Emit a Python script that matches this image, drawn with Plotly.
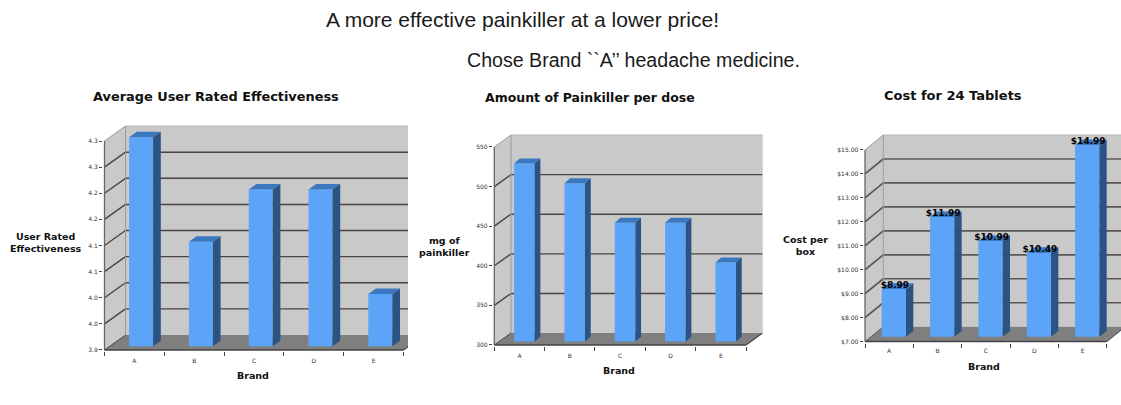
import plotly.graph_objects as go

WIDTH, HEIGHT = 1121, 405

brands = ["A", "B", "C", "D", "E"]

effectiveness = [4.3, 4.1, 4.2, 4.2, 4.0]
effectiveness_ticks = [3.9, 3.95, 4.0, 4.05, 4.1, 4.15, 4.2, 4.25, 4.3]
effectiveness_tick_labels = ["3.9", "4.0", "4.0", "4.1", "4.1", "4.2", "4.2", "4.3", "4.3"]

painkiller_mg = [525, 500, 450, 450, 400]
painkiller_ticks = [300, 350, 400, 450, 500, 550]
painkiller_tick_labels = ["300", "350", "400", "450", "500", "550"]

cost = [8.99, 11.99, 10.99, 10.49, 14.99]
cost_ticks = [7, 8, 9, 10, 11, 12, 13, 14, 15]
cost_tick_labels = ["$7.00", "$8.00", "$9.00", "$10.00", "$11.00", "$12.00", "$13.00", "$14.00", "$15.00"]

WALL = "#c9c9c9"
FLOOR = "#7f7f7f"
BAR_FRONT = "#5ba4f7"
BAR_TOP = "#3b78bf"
BAR_SIDE = "#2b5483"
EDGE = "#9a9a9a"
AXIS = "#444444"
BOLD = "DejaVu Sans"

# Pixel geometry of each faux-3D panel: the front axis box, the depth of the
# walls, and the depth, inset and width of the bars.
panels = [
    dict(values=effectiveness, ticks=effectiveness_ticks, tick_labels=effectiveness_tick_labels,
         left=104.5, right=403.5, clip_right=408, bottom=351.7, top=141.7,
         depth=(21, 15), inset=(6.7, 3.7), bar_depth=(7.7, 5.5), bar_px=24,
         title="Average User Rated Effectiveness", title_xy=(215.5, 96.5), title_size=12.9,
         y_title="User Rated<br>Effectiveness", y_title_xy=(46, 244),
         x_title_xy=(253, 377.5), tick_gap=5, grid=("#4b4545", 1.4)),
    dict(values=painkiller_mg, ticks=painkiller_ticks, tick_labels=painkiller_tick_labels,
         left=494.3, right=746, clip_right=762.5, bottom=346.7, top=147.7,
         depth=(16.7, 12), inset=(4.9, 3.4), bar_depth=(5.7, 5), bar_px=20.6,
         title="Amount of Painkiller per dose", title_xy=(589.5, 97.7), title_size=12.5,
         y_title="mg of<br>painkiller", y_title_xy=(444, 247.5),
         x_title_xy=(619, 372.5), tick_gap=5, grid=("#4b4545", 1.4)),
    dict(values=cost, ticks=cost_ticks, tick_labels=cost_tick_labels, labelled=True,
         left=865, right=1106.7, clip_right=1121, bottom=343.3, top=150.7,
         depth=(18.3, 15), inset=(4.7, 5), bar_depth=(7.3, 5.7), bar_px=24.3,
         title="Cost for 24 Tablets", title_xy=(953.3, 96), title_size=13,
         y_title="Cost per<br>box", y_title_xy=(805.7, 247),
         x_title_xy=(984.3, 368.5), tick_gap=4, grid=("#5c5757", 1.7)),
]

PAD = 1.5  # room around the front axes so their strokes are not clipped

fig = go.Figure()
shapes, annotations = [], []


def note(text, xy, size, family=BOLD, bold=True, color="#111111"):
    annotations.append(dict(
        text=f"<b>{text}</b>" if bold else text,
        xref="paper", yref="paper", x=xy[0] / WIDTH, y=1 - xy[1] / HEIGHT,
        xanchor="center", yanchor="middle", showarrow=False,
        font=dict(family=family, size=size, color=color),
    ))


for n, p in enumerate(panels, start=1):
    xa, ya = ("x", "y") if n == 1 else (f"x{n}", f"y{n}")
    count = len(brands)
    ymin, ymax = p["ticks"][0], p["ticks"][-1]
    px_x = (p["right"] - p["left"]) / count
    px_y = (p["bottom"] - p["top"]) / (ymax - ymin)
    dx, dy = p["depth"][0] / px_x, p["depth"][1] / px_y

    x_lo, x_hi = -PAD / px_x, (p["clip_right"] - p["left"]) / px_x
    y_lo = ymin - PAD / px_y
    y_hi = ymax + dy + PAD / px_y

    def path(points, **style):
        d = "M" + " L".join(f"{a},{b}" for a, b in points) + " Z"
        shapes.append(dict(type="path", path=d, xref=xa, yref=ya, layer="below", **style))

    def segment(x0, y0, x1, y1, color, width):
        shapes.append(dict(type="line", x0=x0, y0=y0, x1=x1, y1=y1, xref=xa, yref=ya,
                           layer="below", line=dict(color=color, width=width)))

    flat = dict(line=dict(width=0))
    # Walls and floor of the box
    path([(dx, ymin + dy), (count + dx, ymin + dy), (count + dx, ymax + dy), (dx, ymax + dy)],
         fillcolor=WALL, **flat)
    path([(0, ymin), (dx, ymin + dy), (dx, ymax + dy), (0, ymax)], fillcolor=WALL, **flat)
    path([(0, ymin), (count, ymin), (count + dx, ymin + dy), (dx, ymin + dy)],
         fillcolor=FLOOR, **flat)

    # Gridlines fold from the back wall onto the side wall
    grid_color, grid_width = p["grid"]
    for t in p["ticks"][1:-1]:
        segment(dx, t + dy, count + dx, t + dy, grid_color, grid_width)
        segment(0, t, dx, t + dy, grid_color, grid_width)

    # Box outline
    segment(0, ymax, dx, ymax + dy, EDGE, 1)
    segment(dx, ymax + dy, count + dx, ymax + dy, "#b5b5b5", 1)
    segment(dx, ymin + dy, dx, ymax + dy, EDGE, 1)
    segment(count + dx, ymin + dy, count + dx, ymax + dy, "#b5b5b5", 1)
    segment(0, ymin, 0, ymax, "#666666", 1.3)
    segment(0, ymin, count, ymin, AXIS, 1.5)
    segment(0, ymin, dx, ymin + dy, grid_color, 1)
    segment(count, ymin, count + dx, ymin + dy, grid_color, 1.2)

    # Bars: the front face comes from a bar trace, the top and side faces follow it
    in_x, in_y = p["inset"][0] / px_x, p["inset"][1] / px_y
    bd_x, bd_y = p["bar_depth"][0] / px_x, p["bar_depth"][1] / px_y
    half = p["bar_px"] / px_x / 2
    centers = [i + 0.5 + in_x for i in range(count)]
    floor_y = ymin + in_y

    fig.add_trace(go.Bar(
        x=centers, y=[v - ymin for v in p["values"]], base=floor_y, width=half * 2,
        marker=dict(color=BAR_FRONT, line=dict(width=0)),
        xaxis=xa, yaxis=ya, showlegend=False, hoverinfo="skip",
    ))

    top_x, top_y, side_x, side_y = [], [], [], []
    for c, v in zip(centers, p["values"]):
        y = v + in_y
        top_x += [c - half, c + half, c + half + bd_x, c - half + bd_x, c - half, None]
        top_y += [y, y, y + bd_y, y + bd_y, y, None]
        side_x += [c + half, c + half + bd_x, c + half + bd_x, c + half, c + half, None]
        side_y += [floor_y, floor_y + bd_y, y + bd_y, y, floor_y, None]
    for xs, ys, color in ((top_x, top_y, BAR_TOP), (side_x, side_y, BAR_SIDE)):
        fig.add_trace(go.Scatter(
            x=xs, y=ys, mode="lines", fill="toself", fillcolor=color,
            line=dict(width=0, color=color), xaxis=xa, yaxis=ya,
            showlegend=False, hoverinfo="skip",
        ))

    if p.get("labelled"):
        fig.add_trace(go.Scatter(
            x=[c + 1 / px_x for c in centers],
            y=[v + (p["inset"][1] + 3) / px_y for v in p["values"]],
            text=[f"<b>${v:.2f}</b>" for v in p["values"]],
            mode="text", textposition="middle center", cliponaxis=False,
            textfont=dict(family=BOLD, size=9, color="#000000"),
            xaxis=xa, yaxis=ya, showlegend=False, hoverinfo="skip",
        ))

    fig.update_layout(**{
        ("xaxis" if n == 1 else f"xaxis{n}"): dict(
            domain=[(p["left"] - PAD) / WIDTH, p["clip_right"] / WIDTH],
            range=[x_lo, x_hi], anchor=ya, showgrid=False, zeroline=False, showline=False,
            tickmode="array", tickvals=[i + 0.5 for i in range(count)], ticktext=brands,
            ticks="outside", ticklen=p["tick_gap"], tickcolor="rgba(0,0,0,0)",
            ticklabelstandoff=-2,
            tickfont=dict(family="DejaVu Sans", size=6, color="#333333"),
            minor=dict(ticks="outside", ticklen=4, tickcolor=AXIS, tickwidth=1,
                       tickmode="array", tickvals=list(range(count + 1)), showgrid=False),
        ),
        ("yaxis" if n == 1 else f"yaxis{n}"): dict(
            domain=[1 - (p["bottom"] + PAD) / HEIGHT, 1 - (p["top"] - p["depth"][1] - PAD) / HEIGHT],
            range=[y_lo, y_hi], anchor=xa, showgrid=False, zeroline=False, showline=False,
            tickmode="array", tickvals=p["ticks"], ticktext=p["tick_labels"],
            ticks="outside", ticklen=3, tickcolor=AXIS, tickwidth=1,
            tickfont=dict(family="DejaVu Sans", size=6, color="#333333"),
        ),
    })

    note(p["title"], p["title_xy"], p["title_size"])
    note(p["y_title"], p["y_title_xy"], 9.5)
    note("Brand", p["x_title_xy"], 9.5)

note("A more effective painkiller at a lower price!", (522, 20), 21,
     family="Liberation Sans", bold=False, color="#1a1a1a")
note("Chose Brand ``A’’ headache medicine.", (633, 60), 19.6,
     family="Liberation Sans", bold=False, color="#1a1a1a")

fig.update_layout(
    width=WIDTH, height=HEIGHT, autosize=False,
    margin=dict(l=0, r=0, t=0, b=0),
    paper_bgcolor="white", plot_bgcolor="rgba(0,0,0,0)",
    shapes=shapes, annotations=annotations, showlegend=False,
)

fig.write_html("out.html", config=dict(displayModeBar=False))
